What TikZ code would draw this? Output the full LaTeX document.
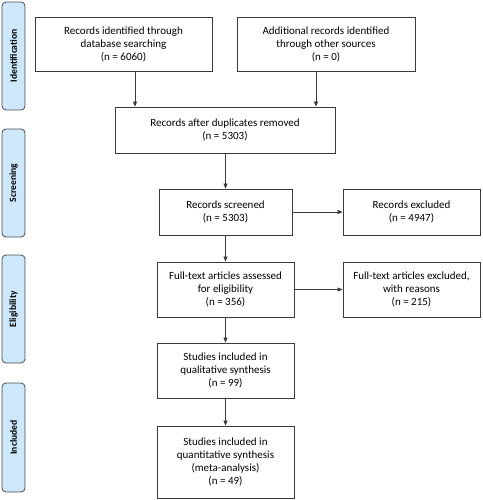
\documentclass[tikz,border=0pt]{standalone}
\usepackage{fontspec}
\setmainfont{Carlito}
\usetikzlibrary{arrows.meta,positioning}
\definecolor{phasefill}{HTML}{CDE8FA}
\definecolor{phaseline}{HTML}{4A4A4A}
\definecolor{boxline}{HTML}{3A3A3A}
\begin{document}
\begin{tikzpicture}[x=1pt,y=-1pt,
  box/.style={draw=boxline,line width=0.8pt,fill=white,align=center,inner sep=0pt,font=\fontsize{11}{13}\selectfont},
  phase/.style={draw=phaseline,line width=0.8pt,fill=phasefill,rounded corners=4pt},
  phasetext/.style={rotate=90,font=\bfseries\fontsize{9.6}{12}\selectfont},
  arr/.style={-{Triangle[length=5pt,width=4pt]},line width=0.7pt,draw=boxline}]
\useasboundingbox (0,0) rectangle (482,500);
% phase labels
\draw[phase] (2,2) rectangle (25,110);
\node[phasetext] (pid) at (13.5,56) {Identification};
\draw[phase] (2,129) rectangle (25,237);
\node[phasetext] (psc) at (13.5,183) {Screening};
\draw[phase] (2,255) rectangle (25,363);
\node[phasetext] (pel) at (13.5,309) {Eligibility};
\draw[phase] (2,383) rectangle (25,492);
\node[phasetext] (pin) at (13.5,437.5) {Included};
% boxes
\node[box,minimum width=177pt,minimum height=54pt] (b1) at (123.5,44) {Records identified through\\database searching\\(n = 6060)};
\node[box,minimum width=178pt,minimum height=54pt] (b2) at (326,44) {Additional records identified\\through other sources\\(n = 0)};
\node[box,minimum width=220pt,minimum height=46pt] (b3) at (225,130) {Records after duplicates removed\\(n = 5303)};
\node[box,minimum width=133pt,minimum height=46pt] (b4) at (225.5,212) {Records screened\\(n = 5303)};
\node[box,minimum width=137pt,minimum height=46pt] (b5) at (411.5,212) {Records excluded\\(n = 4947)};
\node[box,minimum width=137pt,minimum height=55pt] (b6) at (225.5,289.5) {Full-text articles assessed\\for eligibility\\(n = 356)};
\node[box,minimum width=137pt,minimum height=55pt] (b7) at (411.5,289.5) {Full-text articles excluded,\\with reasons\\(n = 215)};
\node[box,minimum width=137pt,minimum height=55pt] (b8) at (225.5,370.5) {Studies included in\\qualitative synthesis\\(n = 99)};
\node[box,minimum width=137pt,minimum height=72pt] (b9) at (225.5,462) {Studies included in\\quantitative synthesis\\(meta-analysis)\\(n = 49)};
% connectors
\draw[arr] (b1.south -| 135,0) -- (b3.north -| 135,0);
\draw[arr] (b2.south -| 316,0) -- (b3.north -| 316,0);
\draw[arr] (b3.south -| b4) -- (b4.north);
\draw[arr] (b4.east) -- (b5.west);
\draw[arr] (b4.south) -- (b6.north);
\draw[arr] (b6.east) -- (b7.west);
\draw[arr] (b6.south) -- (b8.north);
\draw[arr] (b8.south) -- (b9.north);
\end{tikzpicture}
\end{document}
